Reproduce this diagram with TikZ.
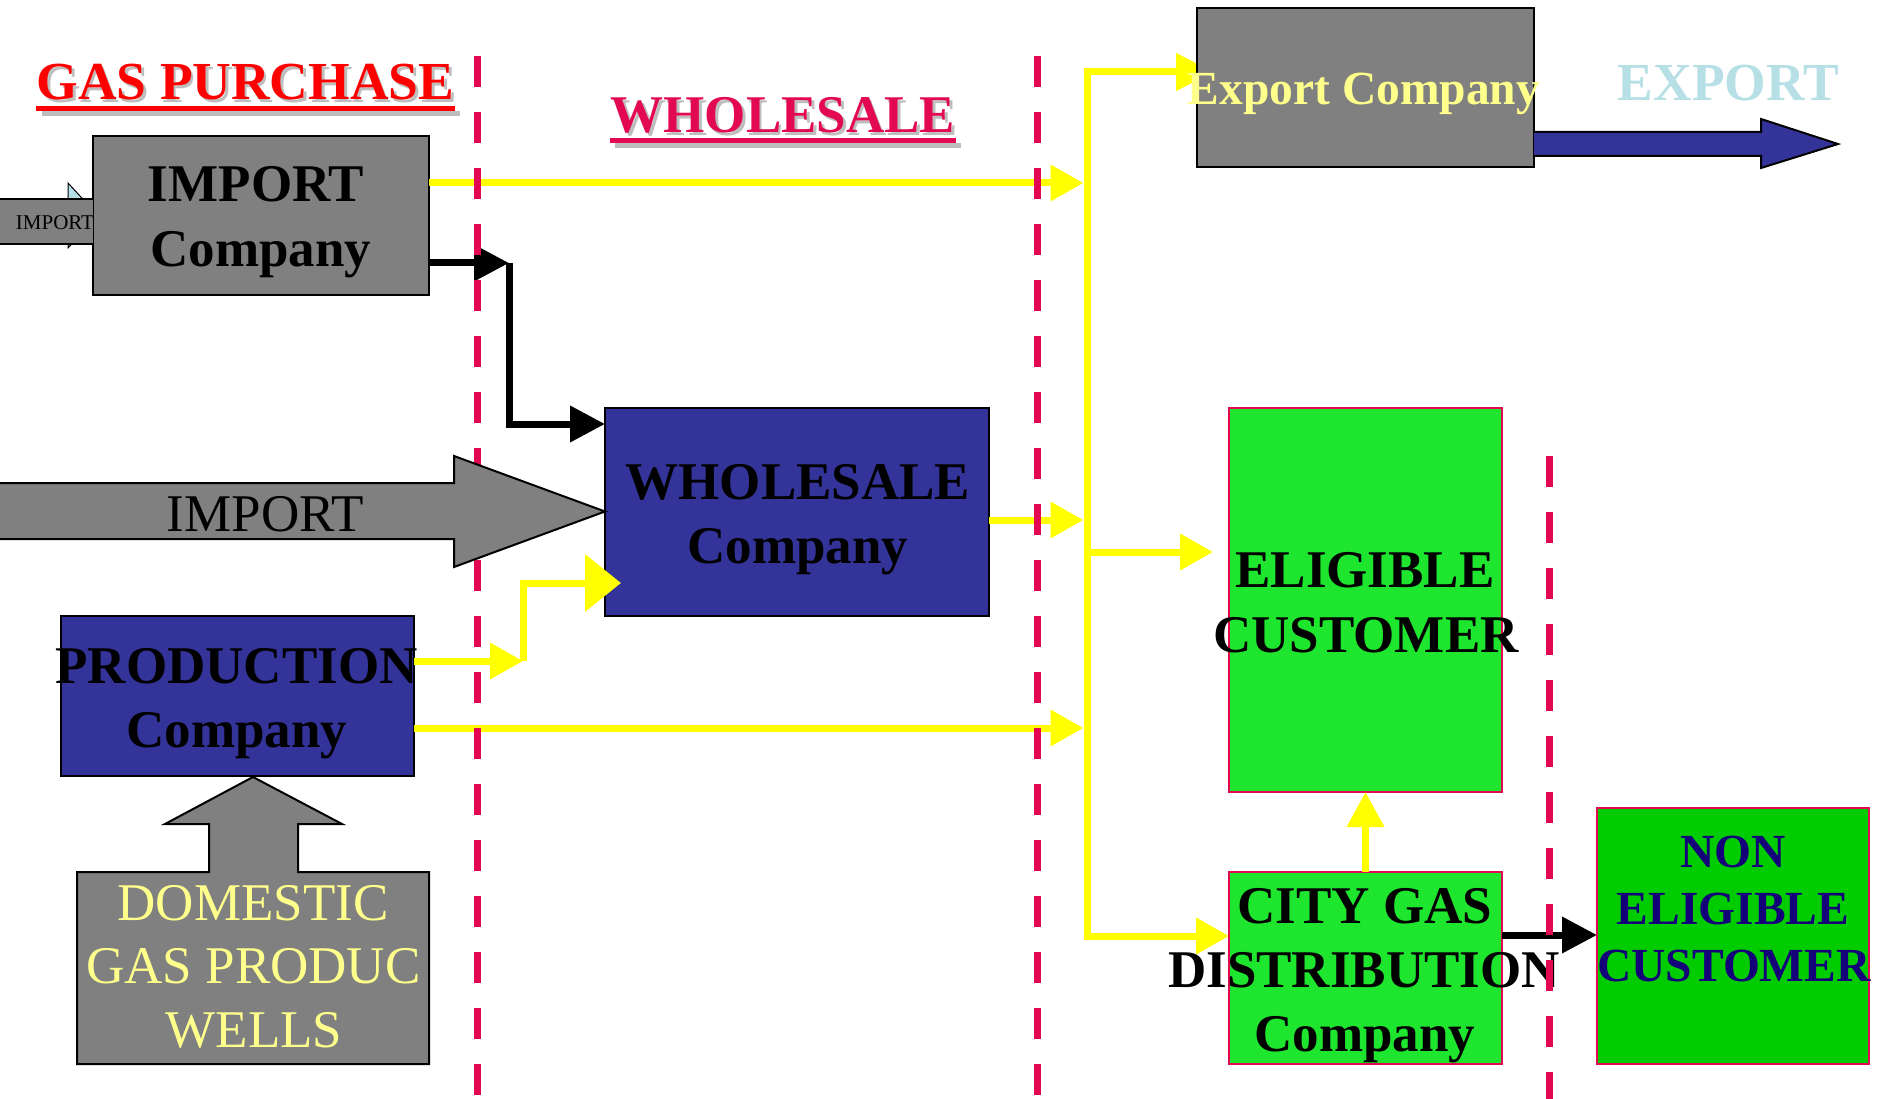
\documentclass[tikz,border=0pt]{standalone}
\usepackage{fontspec}
\setmainfont{Liberation Serif}
\usetikzlibrary{arrows.meta}
\definecolor{crim}{RGB}{226,8,82}
\definecolor{navybox}{RGB}{51,51,153}
\definecolor{grayb}{RGB}{128,128,128}
\definecolor{greenb}{RGB}{30,230,46}
\definecolor{greennon}{RGB}{0,204,0}
\definecolor{ltyel}{RGB}{255,255,140}
\definecolor{pblue}{RGB}{183,224,230}
\definecolor{darknavy}{RGB}{20,0,120}
\definecolor{yel}{RGB}{255,255,0}
\definecolor{shadowg}{RGB}{190,190,190}
\newcommand\myfs[1]{\fontsize{#1}{#1}\selectfont}
\tikzset{
  box/.style={draw=black, line width=2pt, inner sep=0pt, outer sep=0pt},
  gbox/.style={box, fill=grayb},
  nbox/.style={box, fill=navybox},
  cbox/.style={draw=crim, line width=2pt, inner sep=0pt, outer sep=0pt},
  txt/.style={inner sep=0pt, outer sep=0pt, anchor=base},
  bigb/.style={txt, font={\myfs{53}\bfseries}},
  bigr/.style={txt, font={\myfs{53}}},
  yl/.style={draw=yel, line width=7pt},
  bl/.style={draw=black, line width=7pt},
  ytip/.style={-{Triangle[length=33pt,width=35pt]}},
  btip/.style={-{Triangle[length=35pt,width=35pt]}},
  divider/.style={draw=crim, line width=7pt, dash pattern=on 31pt off 25pt},
  blockshape/.style={draw=black, line width=2pt},
}
\begin{document}
\begin{tikzpicture}[x=1pt,y=-1pt]
\useasboundingbox (0,0) rectangle (1880,1099);
\clip (0,0) rectangle (1880,1099);
\fill[white] (0,0) rectangle (1880,1099);

% coordinates on the trunk
\coordinate (tA) at (1083.5,183);
\coordinate (tB) at (1083.5,520);
\coordinate (tC) at (1083.5,728);
\coordinate (tD) at (1087,552);
\coordinate (pj) at (523,661);
\coordinate (ij) at (509,263);

% small import arrow head (behind the import box)
\filldraw[fill=pblue, draw=black, line width=1pt] (68,183) -- (98,215.5) -- (68,248) -- cycle;

% boxes
\node[gbox, minimum width=337pt, minimum height=159pt] (exp) at (1365.5,87.5) {};
\node[gbox, minimum width=336pt, minimum height=159pt] (imp) at (261,215.5) {};
\node[nbox, minimum width=384pt, minimum height=208pt] (whs) at (797,512) {};
\node[nbox, minimum width=353pt, minimum height=160pt] (prod) at (237.5,696) {};
\node[cbox, fill=greenb, minimum width=273pt, minimum height=384pt] (elig) at (1365.5,600) {};
\node[cbox, fill=greenb, minimum width=273pt, minimum height=192pt] (city) at (1365.5,968) {};
\node[cbox, fill=greennon, minimum width=272pt, minimum height=256pt] (non) at (1733,936) {};

% trunk top branch to export company (its head hides under the box)
\draw[yl, -{Triangle[length=38pt,width=36pt]}] (tD) |- ([xshift=17pt,yshift=15.5pt]exp.west);
% export box again over its arrow head
\node[gbox, minimum width=337pt, minimum height=159pt] (exp2) at (1365.5,87.5) {};

% small import bar
\fill[grayb] (-3,199) rectangle (93,244);
\draw[black, line width=1.5pt] (-3,199) -- (93,199) (-3,244) -- (93,244);

% domestic wells block with up arrow
\filldraw[fill=grayb, blockshape] (77,872) -- (209,872) -- (209,824) -- (165,824) -- (253,777)
  -- (342,824) -- (298,824) -- (298,872) -- (429,872) -- (429,1064) -- (77,1064) -- cycle;

% export block arrow
\filldraw[fill=navybox, blockshape] (1534,132) -- (1761,132) -- (1761,119) -- (1838,144)
  -- (1761,168) -- (1761,156) -- (1534,156);

% yellow connectors
\draw[yl, ytip] ([yshift=32.5pt]imp.east) -- (tA);
\draw[yl, ytip] ([yshift=-8pt]whs.east) -- (tB);
\draw[yl, ytip] ([yshift=-32pt]prod.east) -- (tC);
\draw[yl, ytip] (tD) -- ([xshift=-16pt,yshift=48pt]elig.west);
\draw[yl, ytip] (tD) |- ([yshift=32pt]city.west);
\draw[yl, ytip] ([yshift=35pt]prod.east) -- (pj);
\draw[yl, -{Triangle[length=36pt,width=56pt]}] (pj) |- ([xshift=16pt,yshift=-71pt]whs.west);
\draw[yl, -{Triangle[length=35pt,width=36pt]}] (city.north) -- (elig.south);

% black connectors
\draw[bl, btip] ([yshift=-47.5pt]imp.east) -- (ij);
\draw[bl, btip] (ij) |- ([yshift=88pt]whs.west);
\draw[bl, btip] ([yshift=33pt]city.east) -- ([yshift=33pt]city.east -| non.west);

% dividers
\draw[divider] (477,56) -- (477,1110);
\draw[divider] (1037,56) -- (1037,1110);

% big import block arrow
\filldraw[fill=grayb, blockshape] (-5,483) -- (454,483) -- (454,456) -- (605,511.5)
  -- (454,567) -- (454,539) -- (-5,539) -- cycle;

% titles with shadow and underline
\node[txt, text=shadowg, font={\myfs{53.5}\bfseries}] (gps) at (248,102.5) {GAS PURCHASE};
\fill[shadowg] ([xshift=2.5pt,yshift=-8.5pt]gps.base west) rectangle ([xshift=3pt,yshift=-13.5pt]gps.base east);
\node[txt, text=red, font={\myfs{53.5}\bfseries}] (gp) at (245.5,100) {GAS PURCHASE};
\fill[red] ([xshift=-1pt,yshift=-6pt]gp.base west) rectangle ([xshift=1pt,yshift=-11pt]gp.base east);

\node[txt, text=shadowg, font={\myfs{53}\bfseries}] (whts) at (785.5,135.5) {WHOLESALE};
\fill[shadowg] ([xshift=1.5pt,yshift=-7.5pt]whts.base west) rectangle ([xshift=3pt,yshift=-12.5pt]whts.base east);
\node[txt, text=crim, font={\myfs{53}\bfseries}] (wht) at (783,133) {WHOLESALE};
\fill[crim] ([xshift=-1pt,yshift=-5pt]wht.base west) rectangle ([xshift=1pt,yshift=-10pt]wht.base east);

\node[txt, text=pblue, font={\myfs{53.5}\bfseries}] (expt) at (1728.5,101) {EXPORT};

% box texts
\node[txt, text=ltyel, font={\myfs{47.5}\bfseries}] (exptx) at (1364,105) {Export Company};

\node[bigb] (imp1) at (256,202) {IMPORT};
\node[bigb] (imp2) at (261,267) {Company};

\node[txt, font={\myfs{21}}] (smimp) at (55,230) {IMPORT};
\node[bigr] (bigimp) at (265.5,531) {IMPORT};

\node[bigb] (whs1) at (798,499) {WHOLESALE};
\node[bigb] (whs2) at (798,563) {Company};

\node[bigb] (prod1) at (236.5,683) {PRODUCTION};
\node[bigb] (prod2) at (237,747) {Company};

\node[bigr, text=ltyel] (dom1) at (253,920) {DOMESTIC};
\node[bigr, text=ltyel] (dom2) at (253.5,983) {GAS PRODUC};
\node[bigr, text=ltyel] (dom3) at (254,1047) {WELLS};

\node[bigb] (el1) at (1365,587) {ELIGIBLE};
\node[bigb] (el2) at (1366,652) {CUSTOMER};

\node[bigb] (cg1) at (1365,923) {CITY GAS};
\node[bigb] (cg2) at (1364,987) {DISTRIBUTION};
\node[bigb] (cg3) at (1365,1051) {Company};

\node[txt, text=darknavy, font={\myfs{47.5}\bfseries}] (ne1) at (1733,867) {NON};
\node[txt, text=darknavy, font={\myfs{47.5}\bfseries}] (ne2) at (1733,924) {ELIGIBLE};
\node[txt, text=darknavy, font={\myfs{47.5}\bfseries}] (ne3) at (1734,981) {CUSTOMER};

% third divider, over the DISTRIBUTION text
\draw[divider] (1549,456) -- (1549,1110);
\end{tikzpicture}
\end{document}
